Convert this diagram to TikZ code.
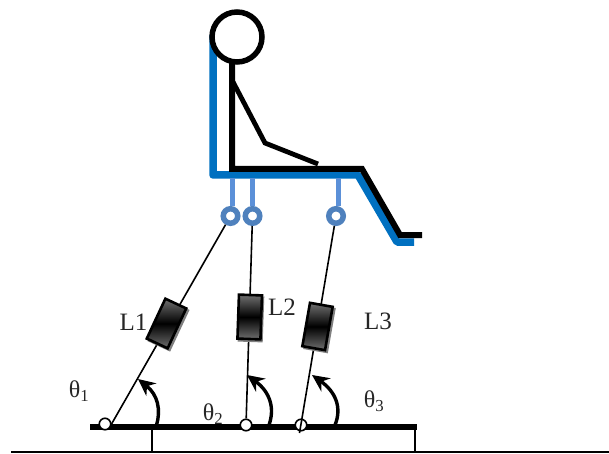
\documentclass[tikz,border=0pt]{standalone}
\usepackage{fontspec}
\setmainfont{Liberation Serif}
\usetikzlibrary{arrows.meta}
\definecolor{chairblue}{HTML}{0070C0}
\definecolor{strutblue}{HTML}{5B90D8}
\definecolor{ringblue}{HTML}{4F81BD}
\definecolor{cylgray}{HTML}{707070}
\tikzset{
  chair/.style={line width=7.5pt,color=chairblue,line join=round},
  strut/.style={line width=5pt,color=strutblue},
  ringnode/.style={circle,draw=ringblue,fill=white,line width=5.5pt,minimum size=14.5pt,inner sep=0pt},
  body/.style={line width=6pt,black,line join=miter},
  limb/.style={line width=4.8pt,black},
  headnode/.style={circle,draw=black,fill=white,line width=5.5pt,minimum size=50pt,inner sep=0pt},
  rod/.style={line width=1.6pt,black},
  cyl/.style={draw=black,line width=2.6pt,minimum width=23pt,minimum height=44pt,inner sep=0pt,
    top color=cylgray,bottom color=cylgray,middle color=black},
  shade/.style={fill=black!50,minimum width=25pt,minimum height=46pt,inner sep=0pt},
  pivot/.style={circle,draw=black,fill=white,line width=1.6pt,minimum size=11.5pt,inner sep=0pt},
  lab/.style={font=\fontsize{25}{25}\selectfont,text=black!85,inner sep=0pt},
  thlab/.style={font=\fontsize{24}{24}\selectfont,text=black!85,inner sep=0pt},
  ang/.style={line width=3.4pt,black,-{Stealth[length=17pt,width=16pt]}},
  deck/.style={line width=5.5pt,black},
  thinline/.style={line width=1.3pt,black}
}
\begin{document}
\begin{tikzpicture}[x=1pt,y=-1pt]
\useasboundingbox (0,0) rectangle (609,454);
% ground and platform
\coordinate (gl) at (11,452);
\coordinate (gr) at (609,452);
\coordinate (dl) at (90,427);
\coordinate (dr) at (417,427);
\coordinate (s1) at (152,427);
\coordinate (s1b) at (152,452);
\coordinate (s2) at (415,427);
\coordinate (s2b) at (415,452);
\draw[thinline] (gl) -- (gr);
\draw[thinline] (s1) -- (s1b);
\draw[thinline] (s2) -- (s2b);
\draw[deck] (dl) -- (dr);
% chair
\coordinate (c0) at (213,35);
\coordinate (c1) at (213,175);
\coordinate (c2) at (358,175);
\coordinate (c3) at (397,242);
\coordinate (c4) at (414,242);
\draw[chair] (c0) -- (c1) -- (c2) -- (c3) -- (c4);
% struts and rings
\coordinate (t1) at (232,178);
\coordinate (t2) at (252.5,178);
\coordinate (t3) at (338,178);
\node[ringnode] (r1) at (230.5,216) {};
\node[ringnode] (r2) at (252.5,216) {};
\node[ringnode] (r3) at (336,216) {};
\draw[strut] (t1) -- (t1 |- r1.north);
\draw[strut] (t2) -- (t2 |- r2.north);
\draw[strut] (t3) -- (t3 |- r3.north);
% pivots and rods
\node[pivot] (p1) at (105,424) {};
\node[pivot] (p2) at (246,425) {};
\node[pivot] (p3) at (301,425) {};
\coordinate (e3) at (299.5,433);
\draw[rod] (r1) -- (p1.east);
\draw[rod] (r2) -- (p2);
\draw[rod] (r3) -- (e3);
% cylinders
\node[shade,rotate=-25] (s1c) at (168.5,325.5) {};
\node[shade,rotate=-2] (s2c) at (251,319) {};
\node[shade,rotate=-10] (s3c) at (319.5,328.5) {};
\node[cyl,rotate=-25] (l1) at (166.5,323.5) {};
\node[cyl,rotate=-2] (l2) at (249.7,317) {};
\node[cyl,rotate=-10] (l3) at (317.5,326.5) {};
% person
\coordinate (b0) at (232,60);
\coordinate (b1) at (232,169);
\coordinate (b2) at (362,169);
\coordinate (b3) at (400,235);
\coordinate (b4) at (422,235);
\coordinate (k0) at (232,80);
\coordinate (k1) at (265,143);
\coordinate (k2) at (318,164);
\draw[limb] (k0) -- (k1) -- (k2);
\draw[body] (b0) -- (b1) -- (b2) -- (b3) -- (b4);
\node[headnode] (head) at (237,37) {};
% angle arrows
\coordinate (a1s) at (156.5,425);
\coordinate (a1e) at (138,379);
\coordinate (a2s) at (269,425);
\coordinate (a2e) at (247,375);
\coordinate (a3s) at (335,425);
\coordinate (a3e) at (312,375);
\draw[ang] (a1s) .. controls (161,410) and (158,395) .. (a1e);
\draw[ang] (a2s) .. controls (275,408) and (270,392) .. (a2e);
\draw[ang] (a3s) .. controls (342,408) and (336,392) .. (a3e);
% labels
\node[lab] (n1) at (133.5,322) {L1};
\node[lab] (n2) at (282,307) {L2};
\node[lab] (n3) at (378,321) {L3};
\node[thlab] (q1) at (79,391) {θ\textsubscript{1}};
\node[thlab] (q2) at (213,414) {θ\textsubscript{2}};
\node[thlab] (q3) at (374,401) {θ\textsubscript{3}};
\end{tikzpicture}
\end{document}
